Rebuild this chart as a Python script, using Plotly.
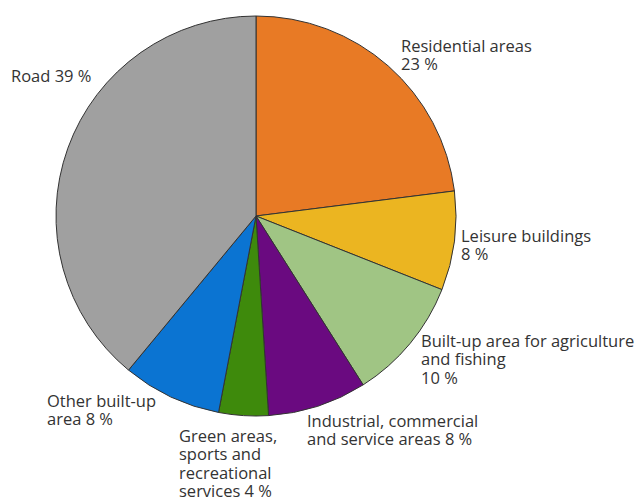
import plotly.graph_objects as go

# Built-up land by use, share of total (%)
categories = [
    "Residential areas",
    "Leisure buildings",
    "Built-up area for agriculture and fishing",
    "Industrial, commercial and service areas",
    "Green areas, sports and recreational services",
    "Other built-up area",
    "Road",
]
shares = [23, 8, 10, 8, 4, 8, 39]
label_lines = [
    ["Residential areas", "23 %"],
    ["Leisure buildings", "8 %"],
    ["Built-up area for agriculture", "and fishing", "10 %"],
    ["Industrial, commercial", "and service areas 8 %"],
    ["Green areas,", "sports and", "recreational", "services 4 %"],
    ["Other built-up", "area 8 %"],
    ["Road 39 %"],
]
colors = ["#E87A25", "#EBB521", "#A0C584", "#6A0A80", "#3E8A0C", "#0B74D2", "#A0A0A0"]

W, H = 641, 498
FONT_SIZE = 16.5
LINE_STEP = 18.4
# left edge / cap-top pixel position of each label block
label_pos = [(402, 43), (462, 233), (422, 338), (308, 418), (180, 433), (48, 398), (12, 73)]

fig = go.Figure(go.Pie(
    labels=categories,
    values=shares,
    sort=False,
    direction="clockwise",
    rotation=0,
    textinfo="none",
    hoverinfo="label+percent",
    marker=dict(colors=colors, line=dict(color="#333333", width=1)),
    domain=dict(x=[56 / W, 456 / W], y=[1 - 416 / H, 1 - 16 / H]),
    showlegend=False,
))

# each label line is its own annotation so the line spacing stays tight
for lines, (px, py) in zip(label_lines, label_pos):
    for i, line in enumerate(lines):
        fig.add_annotation(
            x=(px - 2) / W, y=1 - (py - 10 + i * LINE_STEP) / H,
            xref="paper", yref="paper",
            xanchor="left", yanchor="top", align="left",
            borderpad=0,
            text=line, showarrow=False,
            font=dict(family="Open Sans", size=FONT_SIZE, color="#333333"),
        )

fig.update_layout(
    width=W, height=H,
    margin=dict(l=0, r=0, t=0, b=0),
    paper_bgcolor="white",
    plot_bgcolor="white",
)

fig.write_html("out.html")
